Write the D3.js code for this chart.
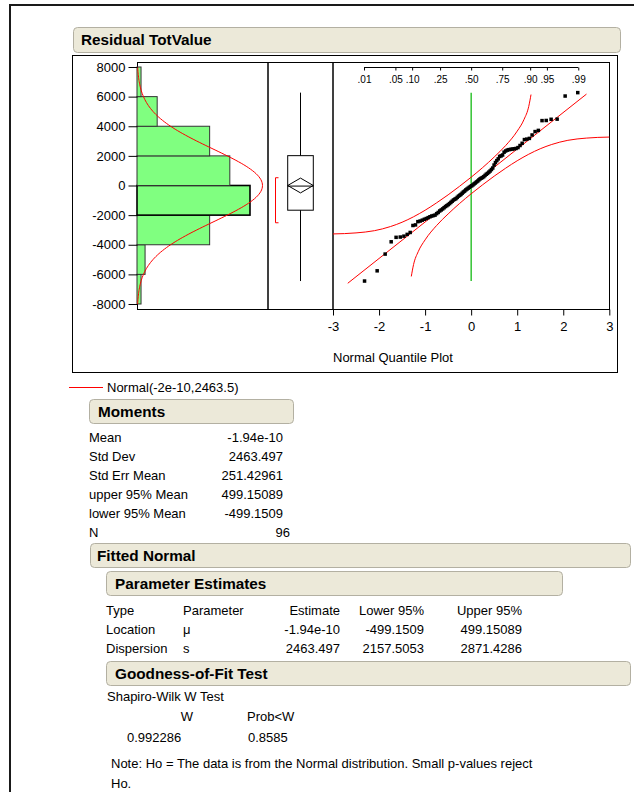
<!DOCTYPE html>
<html>
<head>
<meta charset="utf-8">
<script src="https://cdn.jsdelivr.net/npm/d3@7"></script>
<style>
body { margin: 0; background: #fff; }
text { font-family: "Liberation Sans", Arial, sans-serif; fill: #000; }
</style>
</head>
<body>
<div id="report"></div>
<script>
// histogram bins (lower edges) and counts
var binStarts = [-8000, -6000, -4000, -2000, 0, 2000, 4000, 6000];
var binWidth = 2000;
var binCounts = [1, 2, 18, 28, 23, 18, 5, 1];
var boldBin = 3;

// sorted residuals
var residuals = [
  -6450, -5760, -4630, -3800, -3500, -3480, -3420, -3300, -3170, -2700,
  -2660, -2440, -2400, -2340, -2280, -2230, -2170, -2110, -2060, -2030,
  -2000, -1900, -1820, -1720, -1650, -1580, -1500, -1420, -1360, -1290,
  -1220, -1140, -1060, -980, -930, -880, -800, -720, -660, -600,
  -520, -440, -380, -300, -240, -180, -120, -60, -20, 40,
  110, 170, 240, 300, 380, 450, 500, 540, 600, 680,
  760, 820, 900, 980, 1080, 1180, 1380, 1550, 1680, 1800,
  1960, 2000, 2060, 2250, 2330, 2390, 2420, 2440, 2460, 2480,
  2500, 2560, 2700, 2850, 3100, 3130, 3180, 3410, 3640, 3720,
  4380, 4390, 4470, 4480, 6040, 6270
];

var yTicks = [-8000, -6000, -4000, -2000, 0, 2000, 4000, 6000, 8000];
var zTicks = [-3, -2, -1, 0, 1, 2, 3];
var probTicks = [0.01, 0.05, 0.10, 0.25, 0.50, 0.75, 0.90, 0.95, 0.99];
var probLabels = [".01", ".05", ".10", ".25", ".50", ".75", ".90", ".95", ".99"];

// confidence band around the normal line (normal quantile, value)
var bandZ = [-3, -2.5, -2.1, -1.75, -1.5, -1.25, -1, -0.75, -0.5, -0.25, 0, 0.25, 0.5, 0.75, 1.0, 1.15, 1.25, 1.3];
var bandUpper = [-3270, -3200, -3050, -2770, -2480, -2110, -1670, -1170, -630, -50, 560, 1210, 1920, 2700, 3670, 4470, 5330, 6140];
var bandLower = bandUpper.map(function(v) { return -v; }).reverse();
var bandLowerZ = bandZ.map(function(z) { return -z; }).reverse();

var fitMean = -1.94e-10, fitSd = 2463.497, nObs = 96;
var meanCI = [-499.1509, 499.15089];
var shortestHalf = [-2515, 525];

var momentNames = ["Mean", "Std Dev", "Std Err Mean", "upper 95% Mean", "lower 95% Mean", "N"];
var momentValues = ["-1.94e-10", "2463.497", "251.42961", "499.15089", "-499.1509", "96"];

var paramHeader = ["Type", "Parameter", "Estimate", "Lower 95%", "Upper 95%"];
var paramRows = [
  ["Location", "\u03bc", "-1.94e-10", "-499.1509", "499.15089"],
  ["Dispersion", "s", "2463.497", "2157.5053", "2871.4286"]
];
var gofHeader = ["W", "Prob<W"];
var gofValues = ["0.992286", "0.8585"];

// inverse of the standard normal CDF (Acklam)
function qnorm(p) {
  var a = [-39.69683028665376, 220.9460984245205, -275.9285104469687, 138.3577518672690, -30.66479806614716, 2.506628277459239];
  var b = [-54.47609879822406, 161.5858368580409, -155.6989798598866, 66.80131188771972, -13.28068155288572];
  var c = [-0.007784894002430293, -0.3223964580411365, -2.400758277161838, -2.549732539343734, 4.374664141464968, 2.938163982698783];
  var d = [0.007784695709041462, 0.3224671290700398, 2.445134137142996, 3.754408661907416];
  var pl = 0.02425, q, r;
  if (p < pl) {
    q = Math.sqrt(-2 * Math.log(p));
    return (((((c[0]*q+c[1])*q+c[2])*q+c[3])*q+c[4])*q+c[5]) / ((((d[0]*q+d[1])*q+d[2])*q+d[3])*q+1);
  }
  if (p > 1 - pl) {
    q = Math.sqrt(-2 * Math.log(1 - p));
    return -(((((c[0]*q+c[1])*q+c[2])*q+c[3])*q+c[4])*q+c[5]) / ((((d[0]*q+d[1])*q+d[2])*q+d[3])*q+1);
  }
  q = p - 0.5; r = q * q;
  return (((((a[0]*r+a[1])*r+a[2])*r+a[3])*r+a[4])*r+a[5])*q / (((((b[0]*r+b[1])*r+b[2])*r+b[3])*r+b[4])*r+1);
}

var svg = d3.select("#report").append("svg")
  .attr("width", 634)
  .attr("height", 792);

// page frame
svg.append("path").attr("d", "M10,792V5H634").attr("fill", "none")
  .attr("stroke", "#1a1a1a").attr("stroke-width", 2);

function header(x, y, w, h, label, tx) {
  svg.append("rect").attr("x", x + 0.5).attr("y", y + 0.5).attr("width", w).attr("height", h)
    .attr("rx", 4).attr("fill", "#ece9d9").attr("stroke", "#b3b0a2");
  svg.append("text").attr("x", tx).attr("y", y + h / 2 + 5.5)
    .style("font-size", "15.3px").style("font-weight", "bold").text(label);
}

header(73, 27, 547, 25, "Residual TotValue", 81);

// plot outline
svg.append("rect").attr("x", 72.5).attr("y", 55.5).attr("width", 545).attr("height", 317)
  .attr("fill", "none").attr("stroke", "#000");

var y = d3.scaleLinear().domain([-8000, 8000]).range([304, 67]);
var xc = d3.scaleLinear().domain([0, 28]).range([137, 250]);
var xz = d3.scaleLinear().domain([-3, 3]).range([333, 609.3]);

// panel frames
svg.append("rect").attr("x", 137.5).attr("y", 62.5).attr("width", 130.5).attr("height", 247)
  .attr("fill", "none").attr("stroke", "#000");
svg.append("rect").attr("x", 268).attr("y", 62.5).attr("width", 65).attr("height", 247)
  .attr("fill", "none").attr("stroke", "#000");
svg.append("rect").attr("x", 333).attr("y", 62.5).attr("width", 276.5).attr("height", 247)
  .attr("fill", "none").attr("stroke", "#000");

// histogram
svg.selectAll(".bar").data(binStarts).enter().append("rect")
  .attr("class", "bar")
  .attr("x", xc(0))
  .attr("y", function(d) { return y(d + binWidth); })
  .attr("width", function(d, i) { return xc(binCounts[i]) - xc(0); })
  .attr("height", function(d) { return y(d) - y(d + binWidth); })
  .attr("fill", "#80ff80")
  .attr("stroke", function(d, i) { return i === boldBin ? "#000" : "#333"; })
  .attr("stroke-width", function(d, i) { return i === boldBin ? 1.6 : 1; });

// fitted normal density scaled to counts
var dens = d3.range(-8000, 8001, 100).map(function(v) {
  var z = (v - fitMean) / fitSd;
  return [v, nObs * binWidth * Math.exp(-z * z / 2) / (fitSd * Math.sqrt(2 * Math.PI))];
});
svg.append("path").datum(dens)
  .attr("fill", "none").attr("stroke", "#ff0000").attr("stroke-width", 1)
  .attr("d", d3.line().x(function(d) { return xc(d[1]); }).y(function(d) { return y(d[0]); }));

var yAxis = svg.append("g").attr("transform", "translate(137.5,0)")
  .call(d3.axisLeft(y).tickValues(yTicks).tickSize(9).tickSizeOuter(0).tickPadding(3)
    .tickFormat(function(d) { return String(d); }));
yAxis.select(".domain").remove();
yAxis.selectAll("text").style("font-size", "13px").style("font-family", "Liberation Sans, Arial, sans-serif");

// outlier box plot
var q1 = d3.quantile(residuals, 0.25), med = d3.quantile(residuals, 0.5), q3 = d3.quantile(residuals, 0.75);
var iqr = q3 - q1;
var wLo = d3.min(residuals.filter(function(v) { return v >= q1 - 1.5 * iqr; }));
var wHi = d3.max(residuals.filter(function(v) { return v <= q3 + 1.5 * iqr; }));
var bx = 300.5, bw = 12.8;
var bp = svg.append("g").attr("stroke", "#000").attr("fill", "none");
bp.append("line").attr("x1", bx).attr("x2", bx).attr("y1", y(wHi)).attr("y2", y(q3));
bp.append("line").attr("x1", bx).attr("x2", bx).attr("y1", y(q1)).attr("y2", y(wLo));
bp.append("rect").attr("x", bx - bw).attr("y", y(q3)).attr("width", 2 * bw).attr("height", y(q1) - y(q3));
bp.append("line").attr("x1", bx - bw).attr("x2", bx + bw).attr("y1", y(med)).attr("y2", y(med));
bp.append("path").attr("d", "M" + (bx - bw) + "," + y(fitMean) + "L" + bx + "," + y(meanCI[1]) +
  "L" + (bx + bw) + "," + y(fitMean) + "L" + bx + "," + y(meanCI[0]) + "Z");
svg.append("path").attr("fill", "none").attr("stroke", "#ff0000")
  .attr("d", "M278.5," + y(shortestHalf[1]) + "H275.5V" + y(shortestHalf[0]) + "H278.5");

// normal quantile plot
var zOf = function(v) { return (v - fitMean) / fitSd; };
svg.append("line").attr("x1", xz(0)).attr("x2", xz(0))
  .attr("y1", y(d3.max(residuals))).attr("y2", y(d3.min(residuals)))
  .attr("stroke", "#00b400").attr("stroke-width", 1.2);

var bandLine = d3.line().x(function(d) { return xz(d[0]); }).y(function(d) { return y(d[1]); });
svg.append("path").datum(d3.zip(bandZ, bandUpper))
  .attr("fill", "none").attr("stroke", "#ff0000").attr("d", bandLine.curve(d3.curveMonotoneX));
svg.append("path").datum(d3.zip(bandLowerZ, bandLower))
  .attr("fill", "none").attr("stroke", "#ff0000").attr("d", bandLine.curve(d3.curveMonotoneX));

var lineEnds = [d3.min(residuals) - 150, d3.max(residuals) - 100];
svg.append("line")
  .attr("x1", xz(zOf(lineEnds[0]))).attr("y1", y(lineEnds[0]))
  .attr("x2", xz(zOf(lineEnds[1]))).attr("y2", y(lineEnds[1]))
  .attr("stroke", "#ff0000");

svg.selectAll(".pt").data(residuals).enter().append("rect")
  .attr("class", "pt")
  .attr("x", function(d, i) { return xz(qnorm((i + 1) / (nObs + 1))) - 1.75; })
  .attr("y", function(d) { return y(d) - 1.75; })
  .attr("width", 3.5).attr("height", 3.5)
  .attr("fill", "#000");

var xAxis = svg.append("g").attr("transform", "translate(0,309.5)")
  .call(d3.axisBottom(xz).tickValues(zTicks).tickSize(6).tickSizeOuter(0).tickPadding(6)
    .tickFormat(function(d) { return String(d); }));
xAxis.select(".domain").remove();
xAxis.selectAll("text").style("font-size", "13px").style("font-family", "Liberation Sans, Arial, sans-serif");

var pAxis = svg.append("g").attr("transform", "translate(0,67.5)")
  .call(d3.axisBottom(xz).tickValues(probTicks.map(qnorm)).tickSize(3).tickSizeOuter(0).tickPadding(5)
    .tickFormat(function(d, i) { return probLabels[i]; }));
pAxis.select(".domain").remove();
pAxis.append("line").attr("x1", xz(qnorm(probTicks[0]))).attr("x2", xz(qnorm(probTicks[probTicks.length - 1])))
  .attr("stroke", "#000");
pAxis.selectAll("text").style("font-size", "10px").style("font-family", "Liberation Sans, Arial, sans-serif");

svg.append("text").attr("x", 333).attr("y", 362).style("font-size", "13px").text("Normal Quantile Plot");

// legend
svg.append("line").attr("x1", 69).attr("x2", 103).attr("y1", 387.5).attr("y2", 387.5)
  .attr("stroke", "#ff0000").attr("stroke-width", 1.2);
svg.append("text").attr("x", 107).attr("y", 392).style("font-size", "13px").text("Normal(-2e-10,2463.5)");

// Moments
header(89, 399, 204, 24, "Moments", 98);
var mom = svg.append("g").style("font-size", "13px");
momentNames.forEach(function(m, i) {
  mom.append("text").attr("x", 89).attr("y", 441.5 + i * 19).text(m);
  mom.append("text").attr("x", i === 5 ? 290 : 283).attr("y", 441.5 + i * 19)
    .attr("text-anchor", "end").text(momentValues[i]);
});

// Fitted Normal
header(90, 543, 540, 24, "Fitted Normal", 97);
header(106, 571, 456, 24, "Parameter Estimates", 115);
var colX = [106, 183, 340, 424, 522];
var colAnchor = ["start", "start", "end", "end", "end"];
var pe = svg.append("g").style("font-size", "13px");
[paramHeader].concat(paramRows).forEach(function(row, r) {
  row.forEach(function(cell, c) {
    pe.append("text").attr("x", colX[c]).attr("y", 614.5 + r * 19)
      .attr("text-anchor", colAnchor[c]).text(cell);
  });
});

header(106, 661, 524, 24, "Goodness-of-Fit Test", 115);
var gf = svg.append("g").style("font-size", "13px");
gf.append("text").attr("x", 107).attr("y", 701).text("Shapiro-Wilk W Test");
gf.append("text").attr("x", 187).attr("y", 721).attr("text-anchor", "middle").text(gofHeader[0]);
gf.append("text").attr("x", 247).attr("y", 721).text(gofHeader[1]);
gf.append("text").attr("x", 127).attr("y", 741.5).text(gofValues[0]);
gf.append("text").attr("x", 248).attr("y", 741.5).text(gofValues[1]);
gf.append("text").attr("x", 111).attr("y", 767.5).text("Note: Ho = The data is from the Normal distribution. Small p-values reject");
gf.append("text").attr("x", 111).attr("y", 787.5).text("Ho.");
</script>
</body>
</html>
